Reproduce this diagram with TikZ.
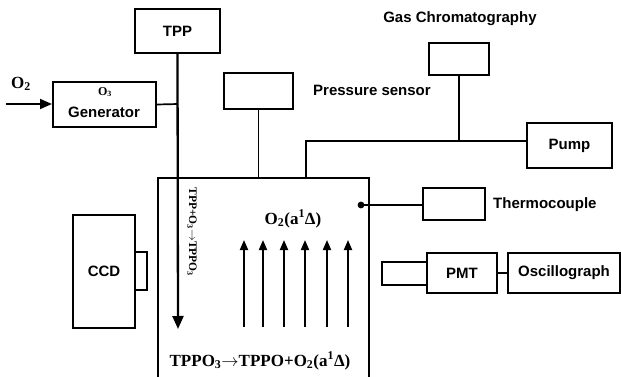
\documentclass[tikz,border=0pt]{standalone}
\usepackage{fontspec}
\setmainfont{Liberation Serif}
\setsansfont{Liberation Sans}
\usetikzlibrary{arrows.meta}
\begin{document}
\begin{tikzpicture}[x=1pt,y=-1pt,
  box/.style={draw,line width=2pt,inner sep=0pt,anchor=center},
  lbl/.style={font=\sffamily\bfseries\fontsize{15}{15}\selectfont,inner sep=0pt},
  chem/.style={font=\bfseries\fontsize{17}{17}\selectfont,inner sep=0pt},
  conn/.style={line width=1.7pt},
  bigarrow/.style={line width=2.3pt,-{Triangle[length=13pt,width=11pt]}},
  uparrow/.style={line width=1.9pt,-{Triangle[length=10pt,width=8pt]}}]
\useasboundingbox (0,0) rectangle (621,377);
% boxes
\node[box,minimum width=103pt,minimum height=45pt] (gen) at (104.5,104.5) {};
\node[font=\bfseries\fontsize{12}{12}\selectfont,inner sep=0pt] (o3) at (105,92) {O\textsubscript{3}};
\node[lbl] (gentxt) at (104,112) {Generator};
\node[box,minimum width=85pt,minimum height=44pt] (tpp) at (177.5,31) {};
\node[lbl] (tpptxt) at (177.5,31) {TPP};
\node[box,minimum width=69pt,minimum height=36pt] (ps) at (258.5,91) {};
\node[lbl,anchor=west] (pstxt) at (313,90) {Pressure sensor};
\node[box,minimum width=60pt,minimum height=32pt] (gc) at (459,59) {};
\node[lbl] (gctxt) at (460,19) {Gas Chromatography};
\node[box,minimum width=85pt,minimum height=45pt] (pump) at (569.5,145.5) {};
\node[lbl] (pumptxt) at (569.5,145.5) {Pump};
\node[box,minimum width=62pt,minimum height=32pt] (tc) at (454,204) {};
\node[lbl,anchor=west] (tctxt) at (493,205) {Thermocouple};
\node[box,minimum width=45pt,minimum height=23pt] (win) at (404.5,273.5) {};
\node[box,minimum width=70pt,minimum height=40pt] (pmt) at (462,273) {};
\node[lbl] (pmttxt) at (462,273) {PMT};
\node[box,minimum width=112pt,minimum height=40pt] (osc) at (564,273) {};
\node[lbl] (osctxt) at (564,273) {Oscillograph};
\node[box,minimum width=62pt,minimum height=113pt] (ccd) at (104,271.5) {};
\node[lbl] (ccdtxt) at (104,271.5) {CCD};
\node[box,minimum width=12pt,minimum height=38pt] (ccdwin) at (141,271) {};
% chamber
\coordinate (chbl) at (158,377);
\coordinate (chtl) at (158,178);
\coordinate (chtr) at (369,178);
\coordinate (chbr) at (369,377);
\draw[line width=2.2pt] (chbl) -- (chtl) -- (chtr) -- (chbr);
% O2 inlet
\node[font=\bfseries\fontsize{17}{17}\selectfont,inner sep=0pt] (o2) at (21,84) {O\textsubscript{2}};
\coordinate (o2start) at (6,104);
\draw[line width=1.9pt,-{Triangle[length=12pt,width=10pt]}] (o2start) -- (gen.west |- o2start);
% TPP line
\coordinate (tppend) at (178,329);
\coordinate (genjoin) at (178,104);
\draw[bigarrow] (tpp.south) -- (tppend);
\draw[conn] (gen.east) -- (genjoin);
\node[font=\bfseries\fontsize{11.5}{11.5}\selectfont,inner sep=0pt,rotate=-90] (r1) at (192,232) {TPP+O\textsubscript{3}$\rightarrow$TPPO\textsubscript{3}};
% pressure sensor
\coordinate (psj) at (ps.south |- chtl);
\draw[conn] (ps.south) -- (psj);
% GC / pump
\coordinate (jgc) at (459,141);
\coordinate (jl) at (306,141);
\coordinate (jlc) at (306,178);
\coordinate (jp) at (pump.west |- jgc);
\draw[conn] (gc.south) -- (jgc);
\draw[conn] (jlc) -- (jl) -- (jp);
% thermocouple
\coordinate (dot) at (361,205);
\fill (dot) circle (3.4pt);
\draw[conn] (dot) -- (tc.west |- dot);
% PMT
\draw[conn] (pmt.east) -- (osc.west);
% up arrows
\foreach \xx in {244,263,284,305,327,348} {
  \coordinate (ua\xx) at (\xx,327);
  \coordinate (ub\xx) at (\xx,240);
  \draw[uparrow] (ua\xx) -- (ub\xx);
}
\node[chem] (o2a) at (293,219) {O\textsubscript{2}(a\textsuperscript{1}Δ)};
\node[chem] (react) at (260,361) {TPPO\textsubscript{3}$\rightarrow$TPPO+O\textsubscript{2}(a\textsuperscript{1}Δ)};
\end{tikzpicture}
\end{document}
